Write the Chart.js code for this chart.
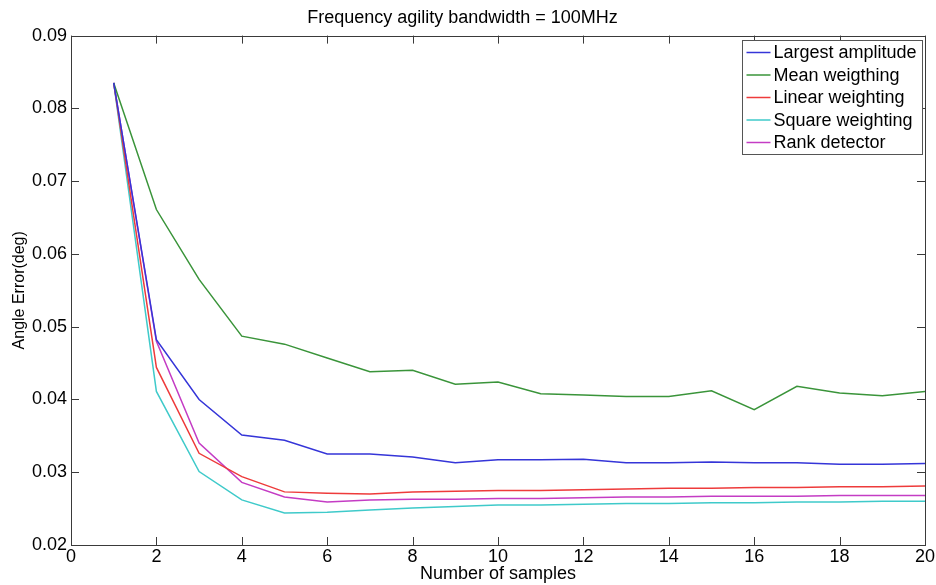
<!DOCTYPE html>
<html>
<head>
<meta charset="utf-8">
<script src="https://cdn.jsdelivr.net/npm/chart.js@4.4.0/dist/chart.umd.min.js"></script>
<style>
  html, body { margin: 0; padding: 0; background: #ffffff; }
  #wrap { position: relative; width: 936px; height: 585px; }
</style>
</head>
<body>
<div id="wrap"><canvas id="maingraph"></canvas></div>
<script>
// data
const samples = [1, 2, 3, 4, 5, 6, 7, 8, 9, 10, 11, 12, 13, 14, 15, 16, 17, 18, 19, 20];
const largestAmplitude = [0.0835, 0.0482, 0.0400, 0.0351, 0.0344, 0.0325, 0.0325, 0.0321, 0.0313, 0.0317, 0.0317, 0.0318, 0.0313, 0.0313, 0.0314, 0.0313, 0.0313, 0.0311, 0.0311, 0.0312];
const meanWeighting = [0.0835, 0.0661, 0.0565, 0.0487, 0.0476, 0.0457, 0.0438, 0.0440, 0.0421, 0.0424, 0.0408, 0.0406, 0.0404, 0.0404, 0.0412, 0.0386, 0.0418, 0.0409, 0.0405, 0.0411];
const linearWeighting = [0.0835, 0.0444, 0.0326, 0.0294, 0.0273, 0.0271, 0.0270, 0.0273, 0.0274, 0.0275, 0.0275, 0.0276, 0.0277, 0.0278, 0.0278, 0.0279, 0.0279, 0.0280, 0.0280, 0.0281];
const squareWeighting = [0.0835, 0.0411, 0.0301, 0.0262, 0.0244, 0.0245, 0.0248, 0.0251, 0.0253, 0.0255, 0.0255, 0.0256, 0.0257, 0.0257, 0.0258, 0.0258, 0.0259, 0.0259, 0.0260, 0.0260];
const rankDetector = [0.0835, 0.0480, 0.0340, 0.0286, 0.0266, 0.0259, 0.0262, 0.0263, 0.0263, 0.0264, 0.0264, 0.0265, 0.0266, 0.0266, 0.0267, 0.0267, 0.0267, 0.0268, 0.0268, 0.0268];

const xTicks = [0, 2, 4, 6, 8, 10, 12, 14, 16, 18, 20];
const yTicks = [0.02, 0.03, 0.04, 0.05, 0.06, 0.07, 0.08, 0.09];

const FONT = "'Liberation Sans', Arial, sans-serif";

function pts(arr) {
  return arr.map((v, i) => ({ x: samples[i], y: v }));
}

function series(label, arr, color) {
  return {
    label: label,
    data: pts(arr),
    borderColor: color,
    backgroundColor: color,
    borderWidth: 1.5,
    pointRadius: 0,
    tension: 0,
    fill: false,
  };
}

// box round the plot, inward ticks on all four sides, and the legend
const matlabAxes = {
  id: "matlabAxes",
  afterDatasetsDraw(chart) {
    const c = chart.ctx;
    const a = chart.chartArea;
    const xs = chart.scales.x;
    const ys = chart.scales.y;
    const len = 8;
    c.save();
    c.strokeStyle = "#3a3a3a";
    c.lineWidth = 1;
    c.strokeRect(Math.round(a.left) + 0.5, Math.round(a.top) + 0.5, Math.round(a.right - a.left), Math.round(a.bottom - a.top));
    c.beginPath();
    xTicks.forEach((t) => {
      const px = Math.round(xs.getPixelForValue(t)) + 0.5;
      c.moveTo(px, a.bottom); c.lineTo(px, a.bottom - len);
      c.moveTo(px, a.top); c.lineTo(px, a.top + len);
    });
    yTicks.forEach((t) => {
      const py = Math.round(ys.getPixelForValue(t)) + 0.5;
      c.moveTo(a.left, py); c.lineTo(a.left + len, py);
      c.moveTo(a.right, py); c.lineTo(a.right - len, py);
    });
    c.stroke();

    // legend
    const lw = 180, lh = 114;
    const lx = Math.round(a.right - 3 - lw) + 0.5;
    const ly = Math.round(a.top + 4) + 0.5;
    c.fillStyle = "#ffffff";
    c.fillRect(lx, ly, lw, lh);
    c.strokeStyle = "#555555";
    c.strokeRect(lx, ly, lw, lh);
    c.font = "18px " + FONT;
    c.textBaseline = "middle";
    c.textAlign = "left";
    chart.data.datasets.forEach((ds, i) => {
      const cy = ly + 12 + i * 22.5;
      c.strokeStyle = ds.borderColor;
      c.lineWidth = 1.5;
      c.beginPath();
      c.moveTo(lx + 4, cy); c.lineTo(lx + 28, cy);
      c.stroke();
      c.fillStyle = "#000000";
      c.fillText(ds.label, lx + 31, cy + 1);
    });
    c.restore();
  },
};

const ctx = document.getElementById("maingraph");

new Chart(ctx, {
  type: "line",
  data: {
    datasets: [
      series("Largest amplitude", largestAmplitude, "#3535d8"),
      series("Mean weigthing", meanWeighting, "#3a943a"),
      series("Linear weighting", linearWeighting, "#ee3b3b"),
      series("Square weighting", squareWeighting, "#3fcaca"),
      series("Rank detector", rankDetector, "#c43cc4"),
    ],
  },
  options: {
    responsive: true,
    maintainAspectRatio: false,
    animation: false,
    layout: { padding: { left: 0, right: 11, top: 0, bottom: 0 } },
    plugins: {
      legend: { display: false },
      tooltip: { enabled: false },
      title: {
        display: true,
        text: "Frequency agility bandwidth = 100MHz",
        color: "#000000",
        font: { family: FONT, size: 18, weight: "normal" },
        padding: { top: 7, bottom: 7 },
      },
    },
    scales: {
      x: {
        type: "linear",
        min: 0,
        max: 20,
        afterFit: (s) => { s.height = 40; s.paddingRight = 0; s.paddingLeft = 0; },
        afterBuildTicks: (s) => { s.ticks = xTicks.map((v) => ({ value: v })); },
        grid: { display: false, drawTicks: false },
        border: { display: false },
        ticks: {
          color: "#000000",
          padding: 1,
          maxRotation: 0,
          font: { family: FONT, size: 18 },
        },
        title: {
          display: true,
          text: "Number of samples",
          color: "#000000",
          padding: 0,
          font: { family: FONT, size: 18 },
        },
      },
      y: {
        min: 0.02,
        max: 0.09,
        afterFit: (s) => { s.width = 71; },
        afterBuildTicks: (s) => { s.ticks = yTicks.map((v) => ({ value: v })); },
        grid: { display: false, drawTicks: false },
        border: { display: false },
        ticks: {
          color: "#000000",
          padding: 4,
          callback: (v) => v.toFixed(2),
          font: { family: FONT, size: 18 },
        },
        title: {
          display: true,
          text: "Angle Error(deg)",
          color: "#000000",
          padding: { top: 10, bottom: 0 },
          font: { family: FONT, size: 16 },
        },
      },
    },
  },
  plugins: [matlabAxes],
});
</script>
</body>
</html>
